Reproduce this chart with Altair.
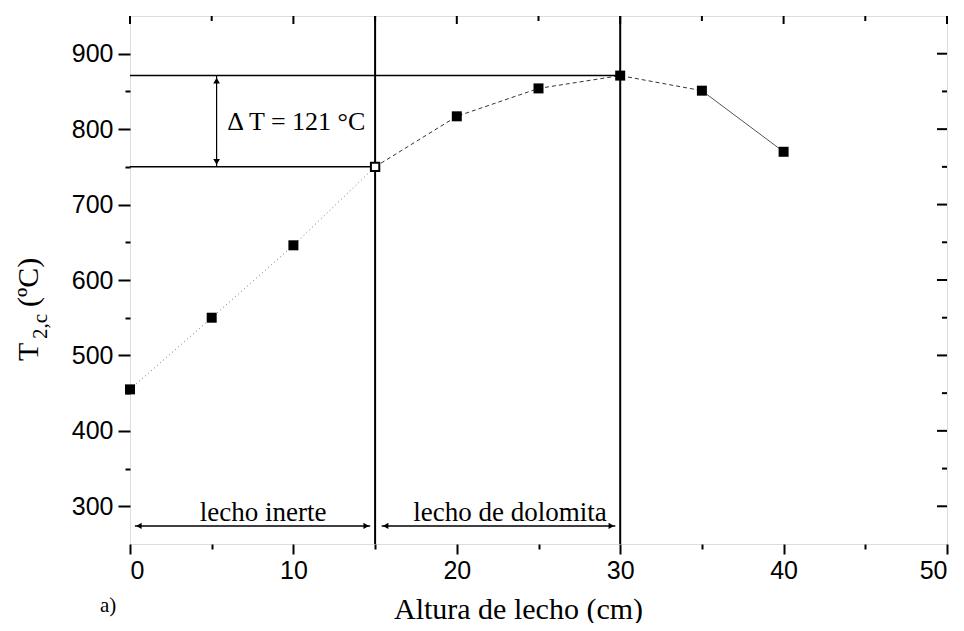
import altair as alt
import pandas as pd

# ---------------- data ----------------
altura = [0, 5, 10, 15, 20, 25, 30, 35, 40]
temperatura = [455, 550, 646, 750, 817, 854, 871, 851, 770]
relleno = ["lleno", "lleno", "lleno", "hueco", "lleno", "lleno", "lleno", "lleno", "lleno"]

limites_lecho = [15, 30]             # vertical boundaries
niveles_dt = [871, 750]              # horizontal reference levels
fin_niveles = [30, 15]               # where each level line ends
dt_x = 5.3                           # x of the Delta T arrow
dt_texto = "\u0394 T = 121 \u00b0C"

flecha_y = 274
flechas_ini = [0.3, 15.4]
flechas_fin = [14.7, 29.7]
etiquetas = ["lecho inerte", "lecho de dolomita"]
etiquetas_x = [8.15, 23.25]

x_mayores = [0, 10, 20, 30, 40, 50]
x_menores = [5, 15, 25, 35, 45]
y_mayores = [300, 400, 500, 600, 700, 800, 900]
y_menores = [350, 450, 550, 650, 750, 850]

W, H = 817, 528

# ---------------- tables ----------------
df = pd.DataFrame({"x": altura, "y": temperatura, "relleno": relleno})
seg_a = df.iloc[0:4]
seg_b = df.iloc[3:8]
seg_c = df.iloc[7:9]

xs = alt.Scale(domain=[0, 50], nice=False, zero=False)
ys = alt.Scale(domain=[250, 950], nice=False, zero=False)

SERIF = "Liberation Serif"
SANS = "Liberation Sans"

x_axis = alt.Axis(
    values=sorted(x_mayores + x_menores),
    labelExpr="datum.value % 10 === 0 ? datum.label : ''",
    tickSize={"condition": {"test": "datum.value % 10 === 0", "value": 10}, "value": 5},
    tickColor="black", tickWidth=2, domain=False, grid=False,
    labelFont=SANS, labelFontSize=25, labelColor="black", labelPadding=4,
    title="Altura de lecho (cm)", titleFont=SERIF, titleFontSize=30,
    titleFontWeight="normal", titleColor="black",
    titleX=388, titleY=74, titleBaseline="alphabetic",
)
y_axis = alt.Axis(
    values=sorted(y_mayores + y_menores),
    labelExpr="datum.value % 100 === 0 ? datum.label : ''",
    tickSize={"condition": {"test": "datum.value % 100 === 0", "value": 12}, "value": 5},
    tickColor="black", tickWidth=2, domain=False, grid=False,
    labelFont=SANS, labelFontSize=25, labelColor="black", labelPadding=5,
    title=None,
)

lin_a = alt.Chart(seg_a).mark_line(color="#777", strokeWidth=1, strokeDash=[1, 3]).encode(
    x=alt.X("x:Q", scale=xs, axis=x_axis), y=alt.Y("y:Q", scale=ys, axis=y_axis))
lin_b = alt.Chart(seg_b).mark_line(color="#333", strokeWidth=1, strokeDash=[4, 3]).encode(
    x=alt.X("x:Q", scale=xs), y=alt.Y("y:Q", scale=ys))
lin_c = alt.Chart(seg_c).mark_line(color="#555", strokeWidth=1).encode(
    x=alt.X("x:Q", scale=xs), y=alt.Y("y:Q", scale=ys))

# reference rules
df_lim = pd.DataFrame({"x": limites_lecho})
v_rules = alt.Chart(df_lim).mark_rule(color="black", strokeWidth=2).encode(x=alt.X("x:Q", scale=xs))

df_niv = pd.DataFrame({"y": niveles_dt, "x0": [0, 0], "x1": fin_niveles})
h_rules = alt.Chart(df_niv).mark_rule(color="black", strokeWidth=1.5).encode(
    x=alt.X("x0:Q", scale=xs), x2="x1:Q", y=alt.Y("y:Q", scale=ys))

df_dt = pd.DataFrame({"x": [dt_x], "y0": [niveles_dt[1]], "y1": [niveles_dt[0]]})
dt_rule = alt.Chart(df_dt).mark_rule(color="black", strokeWidth=1.2).encode(
    x=alt.X("x:Q", scale=xs), y=alt.Y("y0:Q", scale=ys), y2="y1:Q")
dt_up = alt.Chart(df_dt).mark_point(shape="triangle-up", filled=True, color="black", size=45, opacity=1, yOffset=5).encode(
    x=alt.X("x:Q", scale=xs), y=alt.Y("y1:Q", scale=ys))
dt_down = alt.Chart(df_dt).mark_point(shape="triangle-down", filled=True, color="black", size=45, opacity=1, yOffset=-5).encode(
    x=alt.X("x:Q", scale=xs), y=alt.Y("y0:Q", scale=ys))
df_dtt = pd.DataFrame({"x": [5.95], "y": [799], "t": [dt_texto]})
dt_text = alt.Chart(df_dtt).mark_text(font=SERIF, fontSize=26, align="left", baseline="alphabetic", color="black").encode(
    x=alt.X("x:Q", scale=xs), y=alt.Y("y:Q", scale=ys), text="t:N")

# bottom arrows
df_fl = pd.DataFrame({"x0": flechas_ini, "x1": flechas_fin, "y": [flecha_y, flecha_y],
                      "lab": etiquetas, "xl": etiquetas_x, "yl": [281, 281]})
fl_rule = alt.Chart(df_fl).mark_rule(color="black", strokeWidth=1.5).encode(
    x=alt.X("x0:Q", scale=xs), x2="x1:Q", y=alt.Y("y:Q", scale=ys))
fl_left = alt.Chart(df_fl).mark_point(shape="triangle-left", filled=True, color="black", size=40, opacity=1, xOffset=4).encode(
    x=alt.X("x0:Q", scale=xs), y=alt.Y("y:Q", scale=ys))
fl_right = alt.Chart(df_fl).mark_point(shape="triangle-right", filled=True, color="black", size=40, opacity=1, xOffset=-4).encode(
    x=alt.X("x1:Q", scale=xs), y=alt.Y("y:Q", scale=ys))
fl_text = alt.Chart(df_fl).mark_text(font=SERIF, fontSize=27, align="center", baseline="alphabetic", color="black").encode(
    x=alt.X("xl:Q", scale=xs), y=alt.Y("yl:Q", scale=ys), text="lab:N")

# data points
pts_full = alt.Chart(df).transform_filter("datum.relleno === 'lleno'").mark_point(
    shape="square", filled=True, color="black", size=100, opacity=1).encode(
    x=alt.X("x:Q", scale=xs), y=alt.Y("y:Q", scale=ys))
pts_open = alt.Chart(df).transform_filter("datum.relleno === 'hueco'").mark_point(
    shape="square", filled=True, fill="white", stroke="black", strokeWidth=2, size=70, opacity=1).encode(
    x=alt.X("x:Q", scale=xs), y=alt.Y("y:Q", scale=ys))

# inward ticks on top and right
df_tx_M = pd.DataFrame({"x": x_mayores})
df_tx_m = pd.DataFrame({"x": x_menores})
df_ty_M = pd.DataFrame({"y": y_mayores})
df_ty_m = pd.DataFrame({"y": y_menores})
top_M = alt.Chart(df_tx_M).mark_rule(color="black", strokeWidth=2).encode(
    x=alt.X("x:Q", scale=xs), y=alt.value(0), y2=alt.value(8))
top_m = alt.Chart(df_tx_m).mark_rule(color="black", strokeWidth=2).encode(
    x=alt.X("x:Q", scale=xs), y=alt.value(0), y2=alt.value(5))
right_M = alt.Chart(df_ty_M).mark_rule(color="black", strokeWidth=2).encode(
    y=alt.Y("y:Q", scale=ys), x=alt.value(W), x2=alt.value(W - 10))
right_m = alt.Chart(df_ty_m).mark_rule(color="black", strokeWidth=2).encode(
    y=alt.Y("y:Q", scale=ys), x=alt.value(W), x2=alt.value(W - 5))

# y title with subscript and panel label
df_yt = pd.DataFrame({"t": ["T"]})
yt_T = alt.Chart(df_yt).mark_text(font=SERIF, fontSize=30, angle=270, align="left", baseline="alphabetic", color="black").encode(
    x=alt.value(-92), y=alt.value(345), text=alt.value("T"))
yt_sub = alt.Chart(df_yt).mark_text(font=SERIF, fontSize=21, angle=270, align="left", baseline="alphabetic", color="black").encode(
    x=alt.value(-83), y=alt.value(323), text=alt.value("2,c"))
yt_unit = alt.Chart(df_yt).mark_text(font=SERIF, fontSize=30, angle=270, align="left", baseline="alphabetic", color="black").encode(
    x=alt.value(-92), y=alt.value(291), text=alt.value("(\u00baC)"))
lab_a = alt.Chart(df_yt).mark_text(font=SERIF, fontSize=21, align="left", baseline="alphabetic", color="black").encode(
    x=alt.value(-30), y=alt.value(596), text=alt.value("a)"))

chart = alt.layer(
    lin_a, lin_b, lin_c, v_rules, h_rules, dt_rule, dt_up, dt_down, dt_text,
    fl_rule, fl_left, fl_right, fl_text, pts_full, pts_open,
    top_M, top_m, right_M, right_m, yt_T, yt_sub, yt_unit, lab_a,
).properties(
    width=W, height=H,
    autosize=alt.AutoSizeParams(type="none"),
    padding={"left": 122, "top": 8, "right": 9, "bottom": 79},
).configure_view(stroke="black", strokeWidth=2).configure(background="white")

chart.save("out.html", embed_options={"renderer": "svg", "actions": False})
